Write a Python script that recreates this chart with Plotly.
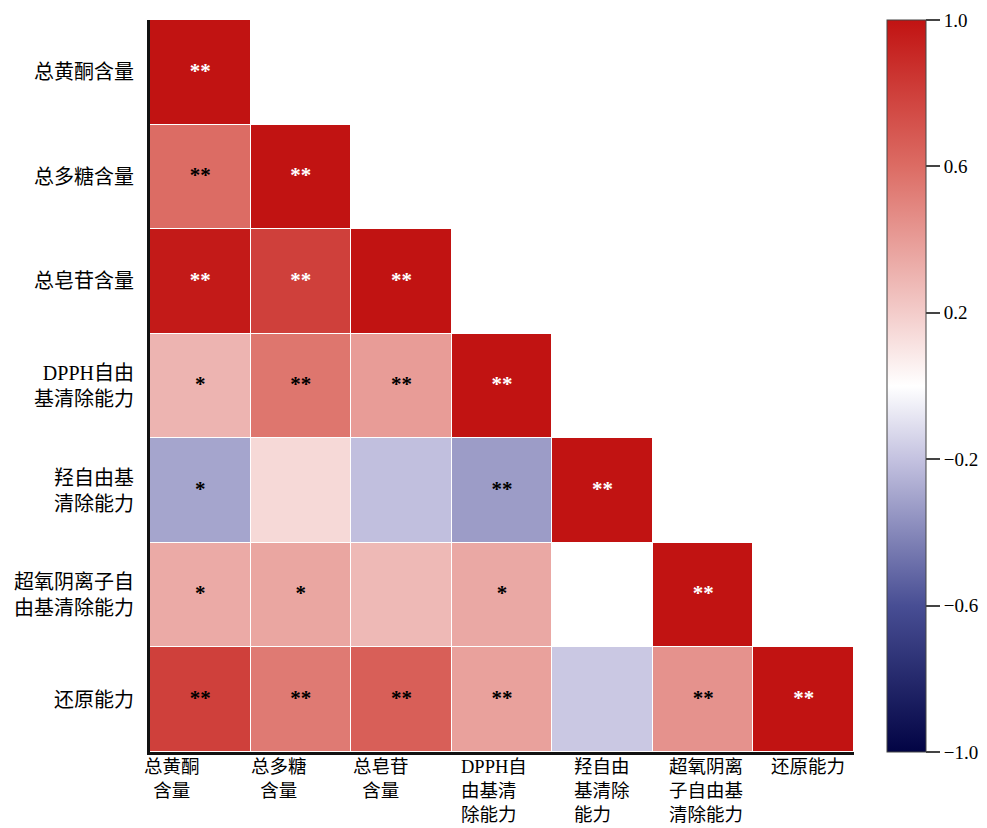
import numpy as np
import plotly.graph_objects as go

# Variables (row/column order, top to bottom / left to right)
row_labels = ["总黄酮含量", "总多糖含量", "总皂苷含量", "DPPH自由<br>基清除能力",
              "羟自由基<br>清除能力", "超氧阴离子自<br>由基清除能力", "还原能力"]
col_labels = ["总黄酮<br>含量", "总多糖<br>含量", "总皂苷<br>含量", "DPPH自<br>由基清<br>除能力",
              "羟自由<br>基清除<br>能力", "超氧阴离<br>子自由基<br>清除能力", "还原能力"]

# Lower-triangular correlation coefficients
corr_rows = [
    [1.00],
    [0.60, 1.00],
    [0.97, 0.80, 1.00],
    [0.30, 0.56, 0.40, 1.00],
    [-0.30, 0.15, -0.21, -0.33, 1.00],
    [0.34, 0.36, 0.28, 0.35, 0.00, 1.00],
    [0.80, 0.54, 0.66, 0.38, -0.18, 0.44, 1.00],
]

# Significance marks
sig_rows = [
    ["**"],
    ["**", "**"],
    ["**", "**", "**"],
    ["*", "**", "**", "**"],
    ["*", "", "", "**", "**"],
    ["*", "*", "", "*", "", "**"],
    ["**", "**", "**", "**", "", "**", "**"],
]

# Mark colours: w = white, k = black
mark_color_rows = [
    "w",
    "kw",
    "www",
    "kkkw",
    "kkkkw",
    "kkkkkw",
    "kkkkkkw",
]

colorbar_ticks = [1.0, 0.6, 0.2, -0.2, -0.6, -1.0]

n = len(row_labels)
z = np.full((n, n), np.nan)
for i, row in enumerate(corr_rows):
    for j, v in enumerate(row):
        z[i, j] = v

colorscale = [
    [0.0, "rgb(2,4,68)"],
    [0.2, "rgb(72,78,148)"],
    [0.4, "rgb(196,194,224)"],
    [0.5, "rgb(255,255,255)"],
    [0.6, "rgb(243,204,202)"],
    [0.8, "rgb(220,108,100)"],
    [1.0, "rgb(193,19,18)"],
]

heat = go.Heatmap(
    z=z,
    x=list(range(n)),
    y=list(range(n)),
    zmin=-1, zmax=1,
    colorscale=colorscale,
    xgap=1, ygap=1,
    hoverongaps=False,
    colorbar=dict(
        x=1.047, xanchor="left", xpad=0,
        y=0.5, yanchor="middle", len=1, lenmode="fraction", ypad=0,
        thickness=39,
        outlinecolor="#444444", outlinewidth=1,
        tickmode="array", tickvals=colorbar_ticks, tickformat=".1f",
        ticks="outside", ticklen=14, tickcolor="#444444", tickwidth=1.5,
        tickfont=dict(family="Liberation Serif", size=19, color="black"),
    ),
)

# Significance stars at cell centres
sx, sy, st, sc = [], [], [], []
for i, row in enumerate(sig_rows):
    for j, s in enumerate(row):
        if s:
            sx.append(j)
            sy.append(i)
            st.append(s)
            sc.append("white" if mark_color_rows[i][j] == "w" else "black")

stars = go.Scatter(
    x=sx, y=sy, text=st, mode="text",
    textposition="middle center",
    textfont=dict(family="Liberation Serif", size=21, color=sc, weight="bold"),
    hoverinfo="skip", showlegend=False,
)

fig = go.Figure([heat, stars])

# Column labels below the cells
label_shift = [-7, -1, 1, 8, 21, 15, 17]
label_align = ["center", "center", "center", "left", "left", "left", "left"]
for j, lab in enumerate(col_labels):
    fig.add_annotation(
        x=j - 0.5, y=6.5, xref="x", yref="y",
        text=lab, showarrow=False,
        xanchor="left", yanchor="top", align=label_align[j],
        xshift=label_shift[j], yshift=-4, borderpad=0,
        font=dict(family="Liberation Serif, Noto Sans CJK SC", size=18.5, color="black"),
    )

fig.update_layout(
    width=987, height=828,
    margin=dict(l=150, r=133, t=20, b=76, autoexpand=False),
    plot_bgcolor="white", paper_bgcolor="white",
    xaxis=dict(
        range=[-0.5, n - 0.5], showticklabels=False, showgrid=False, zeroline=False,
        showline=True, linecolor="#111111", linewidth=3, ticks="",
    ),
    yaxis=dict(
        range=[n - 0.5, -0.5], showgrid=False, zeroline=False,
        showline=True, linecolor="#111111", linewidth=3, ticks="",
        tickmode="array", tickvals=list(range(n)), ticktext=row_labels,
        tickfont=dict(family="Liberation Serif, Noto Sans CJK SC", size=20, color="black"),
        ticklabelstandoff=9,
    ),
)

fig.write_html("out.html")
